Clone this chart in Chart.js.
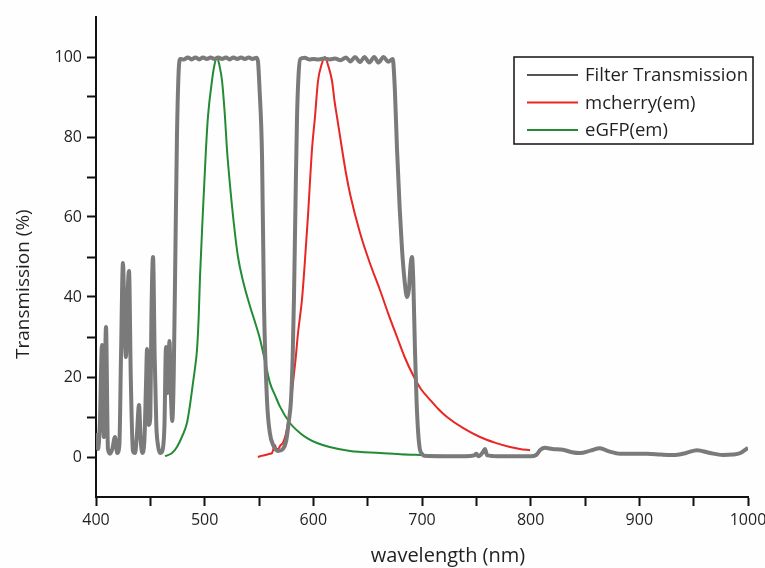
<!DOCTYPE html>
<html>
<head>
<meta charset="utf-8">
<script src="https://cdn.jsdelivr.net/npm/chart.js@4"></script>
<style>
  html, body { margin: 0; padding: 0; background: #fefefe; }
  canvas { display: block; }
</style>
</head>
<body>
<canvas id="spectraChart" width="765" height="568"></canvas>
<script>
// Filter transmission (%) vs wavelength (nm)
const filterWl = [400, 401.8, 403.5, 405.5, 407.2, 409.2, 411, 413, 415, 417.5, 419.5, 421.5, 423, 424.8, 426.5, 427.6, 429, 430.4, 432, 434,
    436, 437.5, 439.6, 441, 442.5, 444.5, 446, 447, 448.5, 450, 451, 452.5, 454, 455.5, 457, 459, 461, 463, 464.4, 466,
    467.6, 469, 470.2, 471.5, 473, 474.5, 476, 477.5, 481, 484.5, 488, 491.5, 495, 498.5, 502, 505.5, 509, 512.5, 516, 519.5,
    523, 526.5, 530, 533.5, 537, 540.5, 544, 547.5, 549, 550.5, 552.8, 554.6, 557.4, 560, 563, 567.5, 572, 575, 577.5, 579.4,
    581, 582.2, 583.5, 585, 586.5, 588, 592, 596, 600, 605, 610, 615, 620, 625, 630, 634, 638.5, 643, 647, 651.5,
    656, 660, 664.5, 669, 673, 675, 677, 679.5, 681.6, 684, 686.2, 688, 689.5, 690.8, 692, 693.5, 695, 696.5, 698, 700,
    702, 720, 740, 748, 750, 752, 756, 758, 760, 770, 790, 800, 805, 809, 813, 820, 829.7, 838, 845.4, 855,
    863.8, 872, 882.2, 895, 907, 920, 931, 943, 953, 965, 977, 986, 993, 1000];
const filterT = [6, 2, 8, 28, 5, 32.5, 2, 0.8, 2, 5, 1, 3, 25, 48.5, 30, 25, 40, 46.5, 20, 1.5,
    1, 5, 13, 5, 1, 4, 18, 27, 8, 10, 35, 50, 25, 8, 3, 1, 1.5, 8, 27.5, 16,
    29, 15, 9, 20, 50, 80, 96, 99.5, 99.4, 99.9, 99.4, 99.9, 99.4, 99.9, 99.5, 99.9, 99.5, 99.9, 99.5, 99.9,
    99.4, 99.9, 99.5, 99.9, 99.5, 99.9, 99.5, 99.8, 99, 92, 75, 38, 14, 6, 3, 1.5, 2, 4, 9, 14,
    25, 40, 62, 85, 96, 99.5, 99.8, 99.4, 99.5, 99.4, 99.6, 99.4, 99.6, 99.2, 99.9, 98.9, 100, 98.7, 100, 98.6,
    100, 98.6, 100, 98.8, 99.5, 92, 77, 62, 52, 44, 40, 42, 48, 50, 44, 27, 14, 6, 2, 0.8,
    0.3, 0.2, 0.2, 0.4, 0.8, 0.2, 1.2, 2, 0.4, 0.2, 0.2, 0.2, 0.5, 1.8, 2.3, 2, 1.8, 1.2, 1, 1.6,
    2.2, 1.4, 0.8, 0.8, 0.8, 0.6, 0.5, 1, 1.7, 1, 0.5, 0.6, 1, 2.3];

// mCherry emission (normalised %)
const cherryWl = [549, 551, 556, 560, 562, 564.7, 566, 567.5, 570, 572, 574.5, 576.7, 579, 581.3, 583.5, 585.9, 589.6, 592, 595, 598.8,
    601.5, 604.3, 607.5, 610.7, 613.5, 617.2, 619.5, 621.8, 626.4, 630, 634, 643, 652, 661, 669, 677, 684, 691.7, 699, 707.4,
    715, 723, 738, 753.4, 767, 781, 790, 799.4];
const cherryT = [0, 0.2, 0.5, 0.8, 1, 3, 2, 2, 3, 3.5, 5.5, 8.5, 13, 18.6, 24, 31, 39.5, 48, 60, 77,
    85, 94, 98, 100, 98, 94, 89, 85, 77, 71, 65.5, 56, 48.5, 42, 35.8, 30, 25, 20.5, 17, 14.3,
    12, 10, 7.2, 5, 3.6, 2.5, 2, 1.7];

// eGFP emission (normalised %)
const gfpWl = [463.5, 470, 474.5, 479, 483.7, 486.5, 489.3, 491, 493, 494.5, 495.7, 498.5, 501.2, 503, 506.7, 509, 511.3, 513.5, 516, 518.7,
    520.5, 523.3, 527, 530.7, 535.3, 541.7, 546, 551, 555.5, 560, 565, 569.3, 578.5, 587.7, 595, 603.4, 615, 633.7, 661.3, 680, 701];
const gfpT = [0.2, 1, 2.5, 5, 8.5, 13, 18.6, 22, 27, 35, 45, 62, 77, 85, 94, 98, 100, 98, 94, 85,
    77, 68, 58, 50, 44, 37.7, 34, 29.4, 24, 18.6, 15.3, 12.6, 8.5, 6, 4.6, 3.5, 2.5, 1.5, 1, 0.7, 0.5];

const xTicksLabelled = [400, 500, 600, 700, 800, 900, 1000];
const yTicksLabelled = [0, 20, 40, 60, 80, 100];

const toPoints = (xs, ys) => xs.map((x, i) => ({ x: x, y: ys[i] }));

const FONT = "'Open Sans', 'Noto Sans', sans-serif";
const TEXT = '#231f20';
const NBSP = '\u00A0';

// legend drawn inside the plot with a frame, like the original
const boxLegend = {
    id: 'boxLegend',
    afterDraw(chart) {
        const ctx = chart.ctx;
        const left = 514, top = 57, w = 239, h = 87;
        ctx.save();
        ctx.fillStyle = '#ffffff';
        ctx.fillRect(left, top, w, h);
        ctx.strokeStyle = '#111';
        ctx.lineWidth = 1.5;
        ctx.strokeRect(left, top, w, h);
        ctx.font = '18.5px ' + FONT;
        ctx.textBaseline = 'middle';
        chart.data.datasets.forEach((ds, i) => {
            const y = 75 + i * 27.5;
            ctx.strokeStyle = ds.legendColor;
            ctx.lineWidth = 2;
            ctx.beginPath();
            ctx.moveTo(527, y);
            ctx.lineTo(578, y);
            ctx.stroke();
            ctx.fillStyle = TEXT;
            ctx.fillText(ds.label, 585, y + 1);
        });
        ctx.restore();
    }
};

function createChart() {
    const ctx = document.getElementById('spectraChart');
    new Chart(ctx, {
        type: 'line',
        data: {
            datasets: [{
                label: 'Filter Transmission',
                data: toPoints(filterWl, filterT),
                borderColor: 'rgb(122, 122, 122)',
                legendColor: 'rgb(85, 85, 85)',
                borderWidth: 4,
                cubicInterpolationMode: 'monotone'
            }, {
                label: 'mcherry(em)',
                data: toPoints(cherryWl, cherryT),
                borderColor: 'rgb(232, 38, 36)',
                legendColor: 'rgb(232, 38, 36)',
                borderWidth: 2,
                cubicInterpolationMode: 'monotone'
            }, {
                label: 'eGFP(em)',
                data: toPoints(gfpWl, gfpT),
                borderColor: 'rgb(34, 139, 52)',
                legendColor: 'rgb(34, 139, 52)',
                borderWidth: 2,
                cubicInterpolationMode: 'monotone'
            }]
        },
        options: {
            responsive: false,
            animation: false,
            elements: { point: { radius: 0 } },
            layout: { padding: { top: 17, right: 0, left: 0, bottom: 0 } },
            plugins: {
                legend: { display: false },
                tooltip: { enabled: false }
            },
            scales: {
                x: {
                    type: 'linear',
                    min: 400,
                    max: 1000,
                    afterFit: s => {
                        s.height = 71;
                        s.paddingLeft = 0;
                        s.paddingRight = 17;
                    },
                    border: { display: true, color: '#111', width: 2 },
                    grid: {
                        drawOnChartArea: false,
                        tickLength: 9,
                        tickWidth: 2,
                        tickColor: '#111'
                    },
                    ticks: {
                        stepSize: 50,
                        autoSkip: false,
                        maxRotation: 0,
                        padding: 5,
                        color: TEXT,
                        font: { family: FONT, size: 16 },
                        callback: v => xTicksLabelled.includes(v) ? v : ''
                    },
                    title: {
                        display: true,
                        // leading spaces push the title right, as in the original
                        text: NBSP.repeat(10) + 'wavelength (nm)',
                        color: TEXT,
                        font: { family: FONT, size: 20 },
                        padding: { top: 0, bottom: 0 }
                    }
                },
                y: {
                    min: -10,
                    max: 110,
                    afterFit: s => { s.width = 96; },
                    border: { display: true, color: '#111', width: 2 },
                    grid: {
                        drawOnChartArea: false,
                        tickLength: 9,
                        tickWidth: 2,
                        tickColor: c => (c.tick && (c.tick.value > 100 || c.tick.value < 0)) ? 'rgba(0,0,0,0)' : '#111'
                    },
                    ticks: {
                        stepSize: 10,
                        autoSkip: false,
                        padding: 5,
                        color: TEXT,
                        font: { family: FONT, size: 16 },
                        callback: v => yTicksLabelled.includes(v) ? v : ''
                    },
                    title: {
                        display: true,
                        // trailing spaces push the rotated title down
                        text: 'Transmission (%)' + NBSP.repeat(11),
                        color: TEXT,
                        font: { family: FONT, size: 19 },
                        padding: { top: 12, bottom: 0 }
                    }
                }
            }
        },
        plugins: [boxLegend]
    });
}

createChart();
</script>
</body>
</html>
